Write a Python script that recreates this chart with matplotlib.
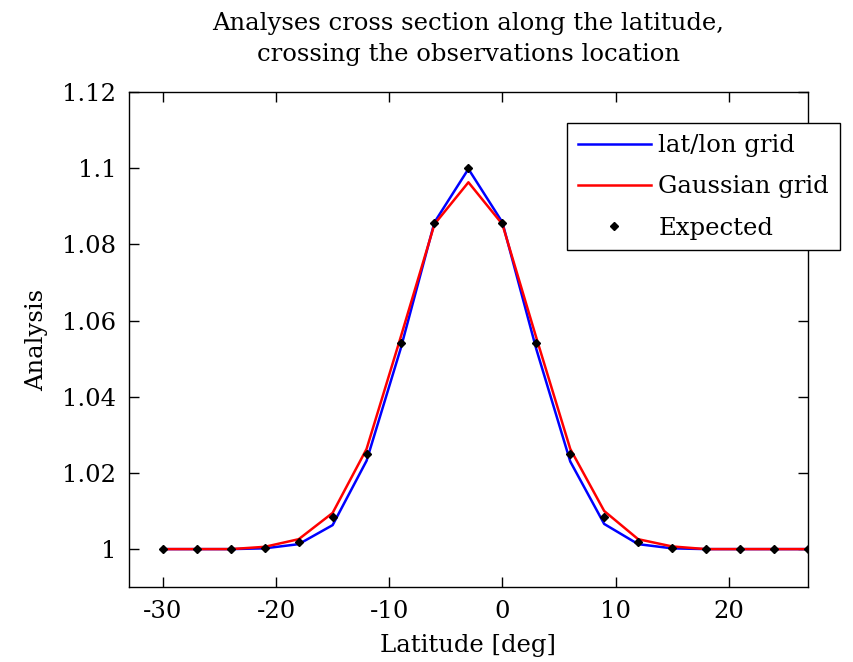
import matplotlib
matplotlib.use('Agg')
import matplotlib.pyplot as plt
import numpy as np

# latitudes of the cross section (deg)
lat = [-30, -27, -24, -21, -18, -15, -12, -9, -6, -3,
       0, 3, 6, 9, 12, 15, 18, 21, 24, 27]

# analyses
latlon = [1.0, 1.0, 1.0, 1.0002, 1.0013, 1.0063, 1.0232, 1.0525, 1.0858, 1.0998,
          1.0858, 1.0525, 1.0230, 1.0066, 1.0013, 1.0002, 1.0, 1.0, 1.0, 1.0]
gauss = [1.0, 1.0, 1.0, 1.0006, 1.0026, 1.0095, 1.0263, 1.0555, 1.0853, 1.0963,
         1.0853, 1.0555, 1.0263, 1.0100, 1.0026, 1.0007, 1.0, 1.0, 1.0, 1.0]
expected = [1.0, 1.0, 1.0, 1.0004, 1.0018, 1.0085, 1.0249, 1.0540, 1.0856, 1.1,
            1.0856, 1.0540, 1.0249, 1.0085, 1.0018, 1.0004, 1.0, 1.0, 1.0, 1.0]

plt.rcParams['font.family'] = ['DejaVu Serif']
plt.rcParams['axes.unicode_minus'] = False
fs = 17.5

fig = plt.figure(figsize=(8.54, 6.62), dpi=100)
ax = fig.add_axes([0.151, 0.113, 0.795, 0.748])

ax.plot(lat, latlon, '-', color='#0000ff', lw=1.8, label='lat/lon grid')
ax.plot(lat, gauss, '-', color='#ff0000', lw=1.8, label='Gaussian grid')
ax.plot(lat, expected, 'D', color='black', ms=4, label='Expected')

ax.set_xlim(-33, 27)
ax.set_ylim(0.99, 1.12)
ax.set_xticks([-30, -20, -10, 0, 10, 20])
ax.set_yticks([1, 1.02, 1.04, 1.06, 1.08, 1.1, 1.12])
ax.set_yticklabels(['1', '1.02', '1.04', '1.06', '1.08', '1.1', '1.12'])
ax.tick_params(direction='in', length=7, width=1, top=True, right=True,
               labelsize=fs, pad=9)
for s in ax.spines.values():
    s.set_linewidth(1)

ax.set_xlabel('Latitude [deg]', fontsize=fs, labelpad=8)
ax.set_ylabel('Analysis', fontsize=fs, labelpad=10)
ax.set_title('Analyses cross section along the latitude,\ncrossing the observations location',
             fontsize=fs, pad=22, linespacing=1.45)

leg = ax.legend(loc='upper left', bbox_to_anchor=(0.664, 0.814),
                bbox_transform=fig.transFigure, fontsize=fs, frameon=True,
                fancybox=False, edgecolor='black', framealpha=1,
                handlelength=3.0, borderaxespad=0, borderpad=0.45,
                labelspacing=0.75, handletextpad=0.3)
leg.get_frame().set_linewidth(1)

fig.savefig('out.png', dpi=100)
